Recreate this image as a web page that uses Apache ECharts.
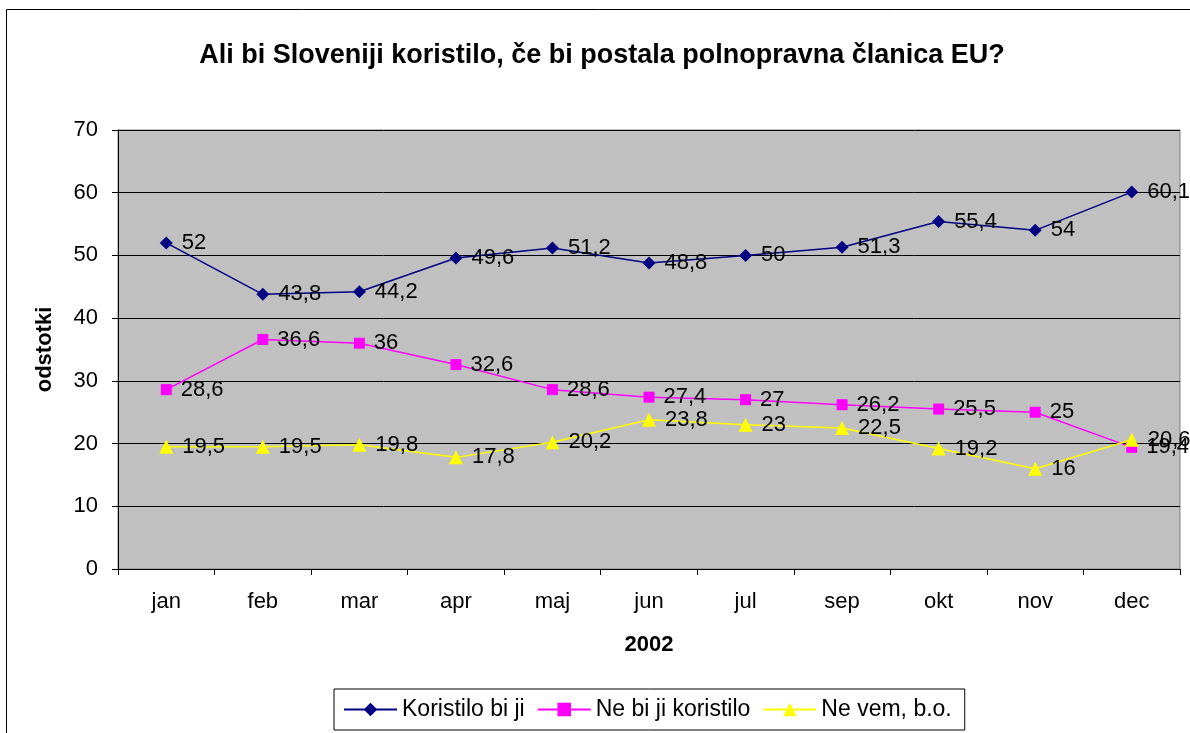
<!DOCTYPE html>
<html>
<head>
<meta charset="utf-8">
<script src="https://cdn.jsdelivr.net/npm/echarts@6/dist/echarts.min.js"></script>
<style>
  html, body { margin: 0; padding: 0; background: #fff; }
  #chart { width: 1190px; height: 733px; }
</style>
</head>
<body>
<div id="chart"></div>
<script>
// mesec ankete
let months = ['jan', 'feb', 'mar', 'apr', 'maj', 'jun', 'jul', 'sep', 'okt', 'nov', 'dec'];
let koristilo = [52, 43.8, 44.2, 49.6, 51.2, 48.8, 50, 51.3, 55.4, 54, 60.1];
let neKoristilo = [28.6, 36.6, 36, 32.6, 28.6, 27.4, 27, 26.2, 25.5, 25, 19.4];
let neVem = [19.5, 19.5, 19.8, 17.8, 20.2, 23.8, 23, 22.5, 19.2, 16, 20.6];

let font = 'Arial, "Liberation Sans", sans-serif';
let myChart = echarts.init(document.getElementById('chart'));

function lineSeries(name, data, color, symbol, size) {
    return {
        name: name,
        type: 'line',
        data: data,
        symbol: symbol,
        symbolSize: size,
        itemStyle: {color: color},
        lineStyle: {color: color, width: 1.5},
        label: {
            show: true,
            position: 'right',
            distance: 9,
            color: '#000',
            fontFamily: font,
            fontSize: 22,
            formatter: p => String(p.value).replace('.', ',')
        },
        emphasis: {disabled: true}
    };
}

myChart.setOption({
    animation: false,
    title: {
        text: 'Ali bi Sloveniji koristilo, če bi postala polnopravna članica EU?',
        left: 597,
        textAlign: 'center',
        top: 37,
        textStyle: {fontFamily: font, fontSize: 27, fontWeight: 'bold', color: '#000'}
    },
    graphic: [{
        type: 'rect',
        shape: {x: 6.5, y: 9.5, width: 1200, height: 740},
        style: {fill: 'none', stroke: '#000', lineWidth: 1},
        silent: true
    }],
    grid: {
        left: 118, top: 130, right: 10, bottom: 164,
        show: true,
        backgroundColor: '#C0C0C0',
        borderColor: '#808080',
        borderWidth: 1
    },
    legend: {
        left: 334,
        top: 689,
        width: 640,
        padding: [9, 13, 9, 9],
        borderColor: '#000',
        borderWidth: 1,
        itemWidth: 53,
        itemHeight: 17,
        itemGap: 12,
        textStyle: {fontFamily: font, fontSize: 23, color: '#000'},
        data: ['Koristilo bi ji', 'Ne bi ji koristilo', 'Ne vem, b.o.']
    },
    xAxis: {
        type: 'category',
        data: months,
        boundaryGap: true,
        name: '2002',
        nameLocation: 'middle',
        nameGap: 65,
        nameTextStyle: {fontFamily: font, fontSize: 22, fontWeight: 'bold', color: '#000'},
        axisLine: {lineStyle: {color: '#000', width: 1}},
        axisTick: {show: true, length: 6, lineStyle: {color: '#000'}},
        axisLabel: {fontFamily: font, fontSize: 22, color: '#000', margin: 22}
    },
    yAxis: {
        type: 'value',
        min: 0,
        max: 70,
        interval: 10,
        name: 'odstotki',
        nameLocation: 'middle',
        nameGap: 62,
        nameRotate: 90,
        nameTextStyle: {fontFamily: font, fontSize: 22, fontWeight: 'bold', color: '#000'},
        axisLine: {show: true, lineStyle: {color: '#000', width: 1}},
        axisTick: {show: true, length: 6, lineStyle: {color: '#000'}},
        axisLabel: {fontFamily: font, fontSize: 22, color: '#000', margin: 20},
        splitLine: {lineStyle: {color: '#000', width: 1}}
    },
    series: [
        lineSeries('Koristilo bi ji', koristilo, '#000080', 'diamond', 13),
        lineSeries('Ne bi ji koristilo', neKoristilo, '#FF00FF', 'rect', 11),
        lineSeries('Ne vem, b.o.', neVem, '#FFFF00', 'triangle', 14)
    ]
});
</script>
</body>
</html>
